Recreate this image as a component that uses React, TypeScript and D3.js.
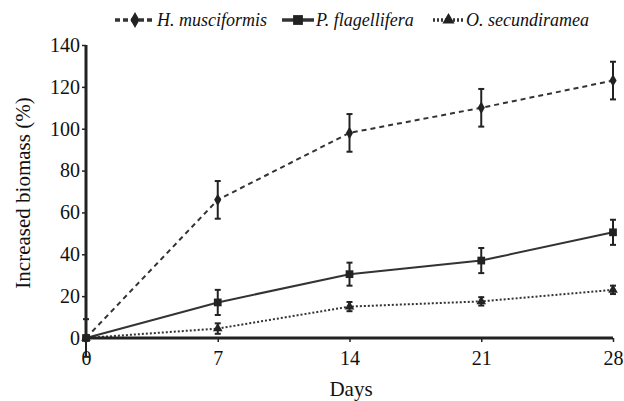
import { useRef, useEffect } from "react";
import * as d3 from "d3";

const days = [0, 7, 14, 21, 28];
const yTicks = [0, 20, 40, 60, 80, 100, 120, 140];

const hMus = [0, 66, 98, 110, 123];
const hMusErr = [9, 9, 9, 9, 9];
const pFla = [0, 17, 30.5, 37, 50.5];
const pFlaErr = [0, 6, 5.5, 6, 6];
const oSec = [0, 4.5, 15, 17.5, 23];
const oSecErr = [0, 2.5, 2.2, 2, 2];

const seriesNames = ["H. musciformis", "P. flagellifera", "O. secundiramea"];

const App = () => {
  const ref = useRef<HTMLDivElement>(null);

  useEffect(() => {
    document.body.style.margin = "0";
    const W = 624;
    const H = 401;
    const margin = { top: 45, right: 11, bottom: 63, left: 86 };
    const width = W - margin.left - margin.right;
    const height = H - margin.top - margin.bottom;
    const font = '"Times New Roman", Times, "Liberation Serif", "DejaVu Serif", serif';
    const ink = "#222";

    const root = d3
      .select(ref.current)
      .html("")
      .append("svg")
      .attr("width", W)
      .attr("height", H)
      .style("display", "block")
      .style("font-family", font);

    const svg = root.append("g").attr("transform", `translate(${margin.left},${margin.top})`);

    const x = d3.scaleLinear().domain([0, 28]).range([0, width]);
    const y = d3.scaleLinear().domain([0, 140]).range([height, 0]);

    const series = [
      { name: seriesNames[0], vals: hMus, err: hMusErr, dash: "5,4", legDash: "5,3", sym: d3.symbolDiamond, size: 45, legLen: 40 },
      { name: seriesNames[1], vals: pFla, err: pFlaErr, dash: null, legDash: null, sym: d3.symbolSquare, size: 60, legLen: 32 },
      { name: seriesNames[2], vals: oSec, err: oSecErr, dash: "2,2", legDash: "2,2", sym: d3.symbolTriangle, size: 40, legLen: 31 },
    ];

    const line = d3
      .line<number>()
      .x((_, i) => x(days[i]))
      .y((d) => y(d));

    series.forEach((s) => {
      svg
        .append("path")
        .attr("d", line(s.vals))
        .attr("fill", "none")
        .attr("stroke", "#333")
        .attr("stroke-width", 2)
        .attr("stroke-dasharray", s.dash);

      s.vals.forEach((v, i) => {
        const e = s.err[i];
        if (e > 0) {
          const cx = x(days[i]);
          svg
            .append("line")
            .attr("x1", cx)
            .attr("x2", cx)
            .attr("y1", y(v - e))
            .attr("y2", y(v + e))
            .attr("stroke", ink)
            .attr("stroke-width", 2);
          [v - e, v + e].forEach((c) => {
            svg
              .append("line")
              .attr("x1", cx - 3)
              .attr("x2", cx + 3)
              .attr("y1", y(c))
              .attr("y2", y(c))
              .attr("stroke", ink)
              .attr("stroke-width", 2);
          });
        }
        svg
          .append("path")
          .attr("d", d3.symbol().type(s.sym).size(s.size)())
          .attr("transform", `translate(${x(days[i])},${y(v)})`)
          .attr("fill", ink);
      });
    });

    const xAxis = svg
      .append("g")
      .attr("transform", `translate(0,${height})`)
      .call(d3.axisBottom(x).tickValues(days).tickSize(4).tickPadding(9).tickFormat(d3.format("d")));
    xAxis.attr("font-family", null);
    xAxis.select(".domain").attr("stroke", ink).attr("stroke-width", 3).attr("d", `M0,0H${width}`);
    xAxis.selectAll(".tick line").attr("stroke", ink).attr("stroke-width", 1.5);
    xAxis.selectAll("text").attr("font-size", 20).attr("fill", "#111");

    const yAxis = svg
      .append("g")
      .call(d3.axisLeft(y).tickValues(yTicks).tickSize(4).tickPadding(2).tickFormat(d3.format("d")));
    yAxis.attr("font-family", null);
    yAxis.select(".domain").attr("stroke", ink).attr("stroke-width", 3).attr("d", `M0,${height}V0`);
    yAxis.selectAll(".tick line").attr("stroke", ink).attr("stroke-width", 1.5);
    yAxis.selectAll("text").attr("font-size", 20).attr("fill", "#111");

    root
      .append("text")
      .attr("x", 351)
      .attr("y", 396)
      .attr("text-anchor", "middle")
      .attr("font-size", 21)
      .attr("fill", "#111")
      .text("Days");

    root
      .append("text")
      .attr("transform", "translate(30,193) rotate(-90)")
      .attr("text-anchor", "middle")
      .attr("font-size", 21)
      .attr("fill", "#111")
      .text("Increased biomass (%)");

    // legend
    const legendX = [115, 282, 433];
    const legend = root.append("g").attr("transform", "translate(0,20)");
    series.forEach((s, i) => {
      const g = legend.append("g").attr("transform", `translate(${legendX[i]},0)`);
      g.append("line")
        .attr("x1", 0)
        .attr("x2", s.legLen)
        .attr("y1", 0)
        .attr("y2", 0)
        .attr("stroke", "#333")
        .attr("stroke-width", 3.5)
        .attr("stroke-dasharray", s.legDash);
      g.append("path")
        .attr("d", d3.symbol().type(s.sym).size(s.size * 1.6)())
        .attr("transform", `translate(${s.legLen / 2},0)`)
        .attr("fill", ink);
      g.append("text")
        .attr("x", s.legLen + 2)
        .attr("y", 6)
        .attr("font-size", 18)
        .attr("font-style", "italic")
        .attr("fill", "#111")
        .text(s.name);
    });
  }, []);

  return <div ref={ref} />;
};

export default App;
